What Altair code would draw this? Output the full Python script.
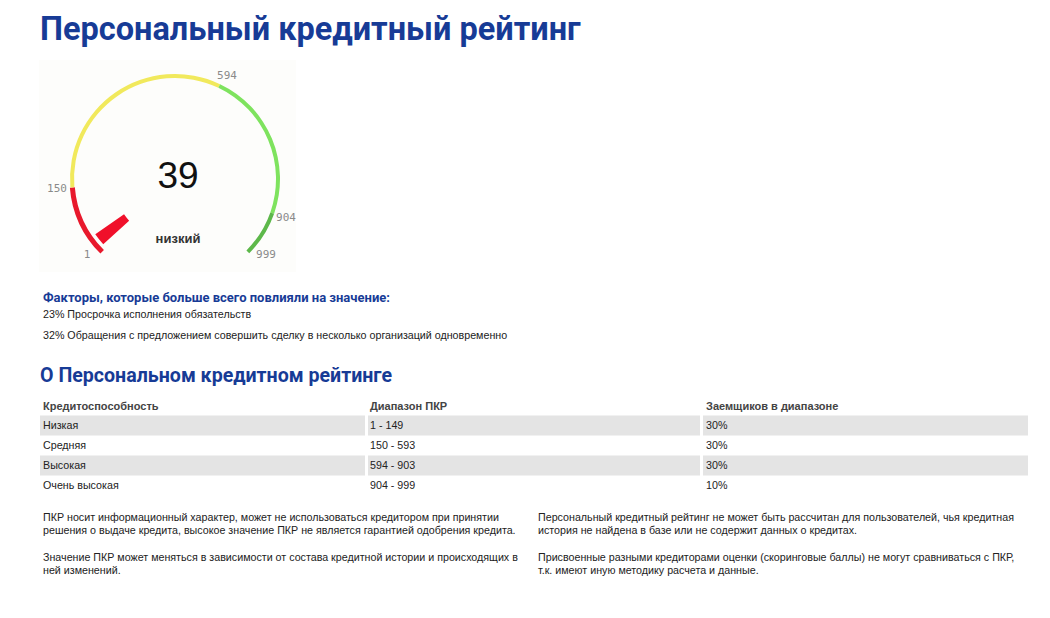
import altair as alt
import pandas as pd

# ---------------- data ----------------
title_text = "Персональный кредитный рейтинг"
score = 39
score_label = "низкий"
seg_start = [1, 150, 594, 904]
seg_end = [150, 594, 904, 999]
tick_values = [1, 150, 594, 904, 999]

factors_title = "Факторы, которые больше всего повлияли на значение:"
factors = [
    "23% Просрочка исполнения обязательств",
    "32% Обращения с предложением совершить сделку в несколько организаций одновременно",
]

about_title = "О Персональном кредитном рейтинге"
table_headers = ["Кредитоспособность", "Диапазон ПКР", "Заемщиков в диапазоне"]
table_levels = ["Низкая", "Средняя", "Высокая", "Очень высокая"]
table_ranges = ["1 - 149", "150 - 593", "594 - 903", "904 - 999"]
table_shares = ["30%", "30%", "30%", "10%"]

notes_left = [
    "ПКР носит информационный характер, может не использоваться кредитором при принятии",
    "решения о выдаче кредита, высокое значение ПКР не является гарантией одобрения кредита.",
    "Значение ПКР может меняться в зависимости от состава кредитной истории и происходящих в",
    "ней изменений.",
]
notes_right = [
    "Персональный кредитный рейтинг не может быть рассчитан для пользователей, чья кредитная",
    "история не найдена в базе или не содержит данных о кредитах.",
    "Присвоенные разными кредиторами оценки (скоринговые баллы) не могут сравниваться с ПКР,",
    "т.к. имеют иную методику расчета и данные.",
]

# ---------------- layout / style ----------------
W, H = 1030, 596
OX, OY = 8, 8
BLUE = "#173b96"
TXT = "#222222"
SANS = "Liberation Sans"
HEAD = "Roboto"
BODY_SIZE = 10.7
seg_colors = ["#e8192c", "#f1e95c", "#7ee35e", "#5db84a"]
seg_inner = [100.5, 101, 101, 101]
seg_outer = [105.5, 105, 105, 105]
CX, CY = 175, 179  # gauge centre (page px)

X = alt.Scale(domain=[OX, OX + W], nice=False, zero=False)
Y = alt.Scale(domain=[OY, OY + H], nice=False, zero=False, reverse=True)
TH = alt.Scale(domain=[1, 999], range=[-2.35619, 2.35619], nice=False, zero=False)


def texts(rows, size, color=TXT, weight="normal", font=SANS, align="left", baseline="middle"):
    df = pd.DataFrame(rows, columns=["x", "y", "t"])
    return alt.Chart(df).mark_text(
        align=align, baseline=baseline, fontSize=size, font=font,
        fontWeight=weight, color=color
    ).encode(
        x=alt.X("x:Q", scale=X, axis=None),
        y=alt.Y("y:Q", scale=Y, axis=None),
        text="t:N",
    )


layers = []

# gauge background
bg = pd.DataFrame({"x": [39], "x2": [296], "y": [60], "y2": [272]})
layers.append(alt.Chart(bg).mark_rect(color="#fdfdfb").encode(
    x=alt.X("x:Q", scale=X, axis=None), x2="x2:Q",
    y=alt.Y("y:Q", scale=Y, axis=None), y2="y2:Q"))

# gauge segments
for s, e, c, ri, ro in zip(seg_start, seg_end, seg_colors, seg_inner, seg_outer):
    d = pd.DataFrame({"s": [s], "e": [e]})
    layers.append(alt.Chart(d).mark_arc(color=c, radius=ro, radius2=ri).encode(
        theta=alt.Theta("s:Q", scale=TH), theta2="e:Q",
        x=alt.value(CX - OX), y=alt.value(CY - OY)))

# needle
nd = pd.DataFrame({"s": [score - 28], "e": [score]})
layers.append(alt.Chart(nd).mark_arc(color="#f0102a", radius=97, radius2=62).encode(
    theta=alt.Theta("s:Q", scale=TH), theta2="e:Q",
    x=alt.value(CX - OX), y=alt.value(CY - OY)))

# tick labels
tick_pos = [(87, 255), (57, 189), (227, 76), (286, 218), (266, 255)]
layers.append(texts([(px, py, str(v)) for (px, py), v in zip(tick_pos, tick_values)],
                    11, color="#8a8a8a", font="DejaVu Sans Mono", align="center"))

# score and label
layers.append(texts([(178, 177, str(score))], 37, color="#111111", align="center"))
layers.append(texts([(178, 239, score_label)], 13, color="#333333", weight="bold", align="center"))

# title
layers.append(texts([(40, 40, title_text)], 32.5, color=BLUE, weight="bold", font=HEAD,
                    baseline="alphabetic"))

# factors
layers.append(texts([(43, 298, factors_title)], 13, color=BLUE, weight="bold", font=HEAD))
layers.append(texts([(43, 315 + 21 * i, f) for i, f in enumerate(factors)], BODY_SIZE))

# about
layers.append(texts([(40, 376, about_title)], 19.6, color=BLUE, weight="bold", font=HEAD))

# table stripes
col_x0 = [40, 368, 703]
col_x1 = [365, 700, 1028]
stripes = []
for r in range(len(table_levels)):
    if r % 2 == 0:
        for a, b in zip(col_x0, col_x1):
            stripes.append({"x": a, "x2": b, "y": 415.5 + 20 * r, "y2": 435.5 + 20 * r})
layers.append(alt.Chart(pd.DataFrame(stripes)).mark_rect(color="#e4e4e4").encode(
    x=alt.X("x:Q", scale=X, axis=None), x2="x2:Q",
    y=alt.Y("y:Q", scale=Y, axis=None), y2="y2:Q"))

col_tx = [43, 370, 706]
layers.append(texts([(cx, 407, h) for cx, h in zip(col_tx, table_headers)], 11,
                    color="#444444", weight="bold"))
rows = []
for i, (a, b, c) in enumerate(zip(table_levels, table_ranges, table_shares)):
    yy = 425.5 + 20 * i
    rows += [(col_tx[0], yy, a), (col_tx[1], yy, b), (col_tx[2], yy, c)]
layers.append(texts(rows, BODY_SIZE))

# notes
note_y = [518, 531, 558, 571]
layers.append(texts([(43, yy, t) for yy, t in zip(note_y, notes_left)], BODY_SIZE))
layers.append(texts([(538, yy, t) for yy, t in zip(note_y, notes_right)], BODY_SIZE))

chart = alt.layer(*layers).properties(
    width=W, height=H, padding=0, background="white",
    autosize=alt.AutoSizeParams(type="fit", contains="padding"),
).configure_view(strokeWidth=0, stroke="transparent")

chart.save("out.html", embed_options={"renderer": "svg", "actions": False})
